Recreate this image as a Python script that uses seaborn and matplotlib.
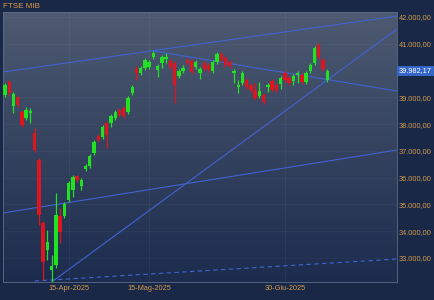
import numpy as np
import pandas as pd
import matplotlib
matplotlib.use("Agg")
import matplotlib.pyplot as plt
from matplotlib.colors import LinearSegmentedColormap
import seaborn as sns

# ---------------- data ----------------
holidays = ["2025-04-18", "2025-04-21", "2025-05-01"]
dates = [d for d in pd.bdate_range("2025-03-25", "2025-07-14") if d.strftime("%Y-%m-%d") not in holidays]

opens = [39088, 39573, 38677, 39013, 38453, 38229, 38415, 37669, 36660, 34308,
         33300, 32553, 32739, 34569, 34569, 35167, 35540, 36063, 35689, 36324,
         36436, 36922, 37557, 37519, 38042, 38042, 38229, 38527, 38602, 38453,
         39162, 40058, 39909, 40096, 40133, 40506, 40021, 40282, 40432, 40357,
         40282, 39798, 39984, 40394, 40357, 40133, 39909, 40282, 40208, 39984,
         40320, 40618, 40469, 40320, 39909, 39386, 39536, 39648, 39461, 39274,
         39050, 39088, 39386, 39610, 39461, 39498, 39909, 39722, 39610, 39834,
         39834, 39573, 39984, 40282, 40954, 40394, 39648]
highs = [39536, 39648, 39200, 39050, 38527, 38639, 38602, 37855, 36735, 34382,
         34046, 33113, 35428, 34868, 35092, 35876, 36100, 36100, 35988, 36511,
         36884, 37407, 37631, 37967, 38117, 38378, 38527, 38602, 38677, 39050,
         39461, 40170, 40170, 40469, 40394, 40730, 40245, 40581, 40656, 40432,
         40357, 40058, 40208, 40469, 40432, 40394, 40133, 40357, 40282, 40394,
         40693, 40693, 40544, 40394, 40058, 39648, 39984, 39722, 39536, 39536,
         39573, 39162, 39536, 39685, 39536, 39797, 39984, 39797, 39872, 39984,
         39909, 39984, 40282, 40917, 41029, 40469, 40058]
lows = [39013, 39088, 38415, 38639, 37893, 38154, 38042, 36959, 34233, 32179,
        32926, 32105, 32627, 33560, 34494, 35092, 35279, 35839, 35540, 36250,
        36362, 36847, 37333, 37444, 37108, 37893, 38154, 38266, 38229, 38378,
        39088, 39648, 39834, 40021, 40058, 40432, 39760, 40096, 40282, 40058,
        38789, 39722, 39909, 40208, 39872, 40058, 39685, 39984, 39946, 39909,
        40245, 40320, 40133, 40096, 39536, 39162, 39461, 39312, 39200, 38901,
        38975, 38751, 39200, 39200, 39200, 39312, 39573, 39461, 39461, 39536,
        39498, 39498, 39909, 40208, 40432, 39984, 39573]
closes = [39461, 39162, 39125, 38714, 37967, 38527, 38490, 37034, 34607, 32852,
          33598, 32702, 34607, 33972, 35017, 35801, 36026, 35914, 35914, 36436,
          36810, 37333, 37407, 37893, 37594, 38303, 38453, 38341, 38303, 38975,
          39386, 39909, 40096, 40394, 40320, 40656, 40170, 40506, 40506, 40133,
          39461, 39984, 40096, 40282, 39946, 40320, 40058, 40058, 40021, 40320,
          40618, 40394, 40208, 40170, 39984, 39461, 39909, 39386, 39274, 38975,
          39237, 38826, 39461, 39274, 39274, 39722, 39648, 39536, 39797, 39909,
          39573, 39909, 40208, 40842, 40506, 40058, 39982.17]

last_price = 39982.17
ytick_values = [42000, 41000, 39000, 38000, 37000, 36000, 35000, 34000, 33000]
xtick_dates = ["2025-04-15", "2025-05-15", "2025-06-30"]
xtick_labels = ["15-Apr-2025", "15-Mag-2025", "30-Giu-2025"]

# trendlines: ([start index, end index], [start price, end price])
trend_upper = ([-0.47, 92.45], [39946, 42037])
trend_down = ([35, 92.45], [40730, 39237])
trend_steep = ([11, 92.45], [32105, 41552])
trend_lower = ([-0.47, 92.45], [34681, 37034])
trend_dashed = ([7, 92.45], [32142, 32964])

# ---------------- styling ----------------
sns.set_theme(style="dark")
plt.rcParams["font.family"] = ["Liberation Sans", "DejaVu Sans"]

FIG_BG = "#182846"
TOP_C = "#4e5a71"
BOT_C = "#1c2c4e"
TXT_C = "#d79a4e"
GREEN = "#22e022"
RED = "#e0141e"
LINE_C = "#4262d2"

fig = plt.figure(figsize=(4.34, 3.0), dpi=100, facecolor=FIG_BG)
ax = fig.add_axes([3 / 434, 1 - 282 / 300, 394 / 434, 270 / 300])

xlim = (-0.47, 92.45)
ylim = (32105, 42187)

cmap = LinearSegmentedColormap.from_list("bg", [TOP_C, BOT_C])
grad = np.linspace(0, 1, 256).reshape(-1, 1)
ax.imshow(grad, cmap=cmap, extent=[xlim[0], xlim[1], ylim[0], ylim[1]],
          aspect="auto", origin="upper", zorder=0)

idx = np.arange(len(dates))
df = pd.DataFrame({"i": idx, "open": opens, "high": highs, "low": lows, "close": closes})
up = df["close"] >= df["open"]
colors = np.where(up, GREEN, RED)

# faint grid
for v in ytick_values:
    ax.axhline(v, color="white", alpha=0.04, lw=0.6, zorder=1)
pos_map = {d.strftime("%Y-%m-%d"): k for k, d in enumerate(dates)}
xtick_pos = [pos_map[d] for d in xtick_dates]
for p in xtick_pos:
    ax.axvline(p, color="white", alpha=0.05, lw=0.6, zorder=1)

# trendlines via seaborn
for (xs, ys), ls in [(trend_upper, "-"), (trend_down, "-"), (trend_steep, "-"),
                     (trend_lower, "-"), (trend_dashed, (0, (4, 3)))]:
    sns.lineplot(x=xs, y=ys, ax=ax, color=LINE_C, lw=0.8, linestyle=ls, zorder=2)

# candles
ax.vlines(df["i"], df["low"], df["high"], colors=colors, lw=0.9, zorder=3)
body_bottom = np.minimum(df["open"], df["close"])
body_h = np.maximum(np.abs(df["close"] - df["open"]), 30)
ax.bar(df["i"], body_h, bottom=body_bottom, width=0.8, color=colors, linewidth=0, zorder=4)

ax.set_xlim(*xlim)
ax.set_ylim(*ylim)

ax.yaxis.tick_right()
ax.set_yticks(ytick_values)
ax.set_yticklabels([f"{v:,.2f}".replace(",", "X").replace(".", ",").replace("X", ".") for v in ytick_values])
ax.set_xticks(xtick_pos)
ax.set_xticklabels(xtick_labels)
ax.tick_params(axis="both", length=0, labelsize=5.3, colors=TXT_C)
ax.tick_params(axis="y", pad=1.5)
ax.tick_params(axis="x", pad=2.5)
ax.grid(False)
ax.set_xlabel("")
ax.set_ylabel("")
for s in ax.spines.values():
    s.set_visible(True)
    s.set_color("#5d6c88")
    s.set_linewidth(0.6)

# last price label
lp_txt = f"{last_price:,.2f}".replace(",", "X").replace(".", ",").replace("X", ".")
ax.annotate(lp_txt, xy=(1.0, last_price), xycoords=("axes fraction", "data"),
            xytext=(1.5, 0), textcoords="offset points", ha="left", va="center",
            fontsize=5.3, color="white",
            bbox=dict(boxstyle="square,pad=0.25", fc="#3466c6", ec="none"))

fig.text(3 / 434, 1 - 6 / 300, "FTSE MIB", color="#e09a48", fontsize=5.8,
         ha="left", va="center")

fig.savefig("out.png", dpi=100, facecolor=FIG_BG)
